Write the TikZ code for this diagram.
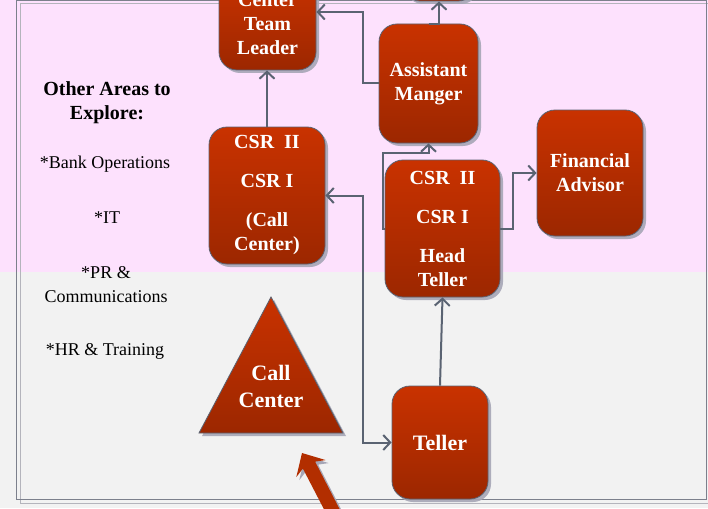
\documentclass[tikz,border=0pt]{standalone}
\usepackage{fontspec}
\setmainfont{Liberation Serif}
\usetikzlibrary{positioning,shadows,arrows.meta}
\definecolor{pinkbg}{HTML}{FDE1FD}
\definecolor{greybg}{HTML}{F2F2F2}
\definecolor{boxtop}{HTML}{C93200}
\definecolor{boxbot}{HTML}{9C2700}
\definecolor{edge}{HTML}{5B6170}
\definecolor{linec}{HTML}{5A6372}
\definecolor{shadowc}{HTML}{A6A6B6}
\definecolor{framec}{HTML}{7C808C}
\definecolor{framelt}{HTML}{B4B4BC}
\definecolor{arrowc}{HTML}{B22E00}

\begin{document}
\begin{tikzpicture}
    [x=1pt,y=-1pt
    ,>={Straight Barb[length=7pt,width=15pt]}
    ,box/.style={draw=edge,line width=.8pt,rounded corners=18pt
       ,top color=boxtop,bottom color=boxbot,text=white
       ,font=\bfseries\fontsize{20}{24}\selectfont,align=center,inner sep=0pt
       ,drop shadow={shadow xshift=3pt,shadow yshift=-3pt,fill=shadowc,opacity=.9}}
    ,conn/.style={draw=linec,line width=2pt}
    ,area/.style={font=\fontsize{18}{24}\selectfont,align=center}
    ]

    \useasboundingbox (0,0) rectangle (708,508);
    \fill[pinkbg] (0,0) rectangle (708,272);
    \fill[greybg] (0,272) rectangle (708,508);

    % slide frame
    \draw[framelt,line width=1pt] (20,4) rectangle (712,503);
    \draw[framec,line width=1pt] (16,1) rectangle (706.5,499);

    % left column
    \node[area,font=\bfseries\fontsize{20}{24}\selectfont] (other) at (107,103) {Other Areas to\\Explore:};
    \node[area] (bank) at (105,164) {*Bank Operations};
    \node[area] (it) at (107,218) {*IT};
    \node[area] (pr) at (106,285) {*PR \&\\Communications};
    \node[area] (hr) at (105,351) {*HR \& Training};

    % ladder
    \node[box,minimum width=74pt,minimum height=118pt] (mgr) at (439,-58) {};
    \node[box,minimum width=97pt,minimum height=93pt] (ctl) at (267.5,23.5) {Center\\Team\\Leader};
    \node[box,minimum width=99pt,minimum height=119pt] (am) at (428.5,83.5) {Assistant\\Manger};
    \node[box,minimum width=116pt,minimum height=137pt] (csr) at (267,195.5)
        {CSR~~II\\[15pt]CSR I\\[15pt](Call\\Center)};
    \node[box,minimum width=115pt,minimum height=137pt] (ht) at (442.5,228.5)
        {CSR~~II\\[15pt]CSR I\\[15pt]Head\\Teller};
    \node[box,minimum width=106pt,minimum height=126pt] (fa) at (590,173) {Financial\\Advisor};
    \node[box,minimum width=96pt,minimum height=113pt
        ,font=\bfseries\fontsize{22}{26}\selectfont] (tel) at (440,442.5) {Teller};

    % call center triangle
    \fill[shadowc,opacity=.9] (274,300) -- (346,436) -- (202,436) -- cycle;
    \path[draw=edge,line width=.8pt,top color=boxtop,bottom color=boxbot]
        (271,297) -- (343,433) -- (199,433) -- cycle;
    \node[text=white,align=center,font=\bfseries\fontsize{22}{27}\selectfont] (cc) at (271,386) {Call\\Center};

    \draw[conn,->] (csr.north) -- (csr.north |- ctl.south);
    \draw[conn,->] (am.west) -- ++(-16,0) |- ([yshift=11.5pt]ctl.east);
    \draw[conn,->] (am.north) -| (mgr.south);
    \draw[conn,->] (ht.west) -- ++(-2,0) -- ++(0,-75.5) -| (am.south);
    \draw[conn,->] (ht.east) -- ++(13,0) |- (fa.west);
    \draw[conn,<->] (csr.east) -- ++(38,0) |- (tel.west);
    \draw[conn,->] (tel.north) -- (ht.south);

    % big arrow
    \fill[shadowc] (305,456) -- (328.7,463.1) -- (318.1,464.6) -- (352,530.4)
        -- (340,537.4) -- (305.9,471.6) -- (299.3,480.1) -- cycle;
    \fill[arrowc] (302,453) -- (325.7,460.1) -- (315.1,461.6) -- (349,527.4)
        -- (337,534.4) -- (302.9,468.6) -- (296.3,477.1) -- cycle;

\end{tikzpicture}
\end{document}
